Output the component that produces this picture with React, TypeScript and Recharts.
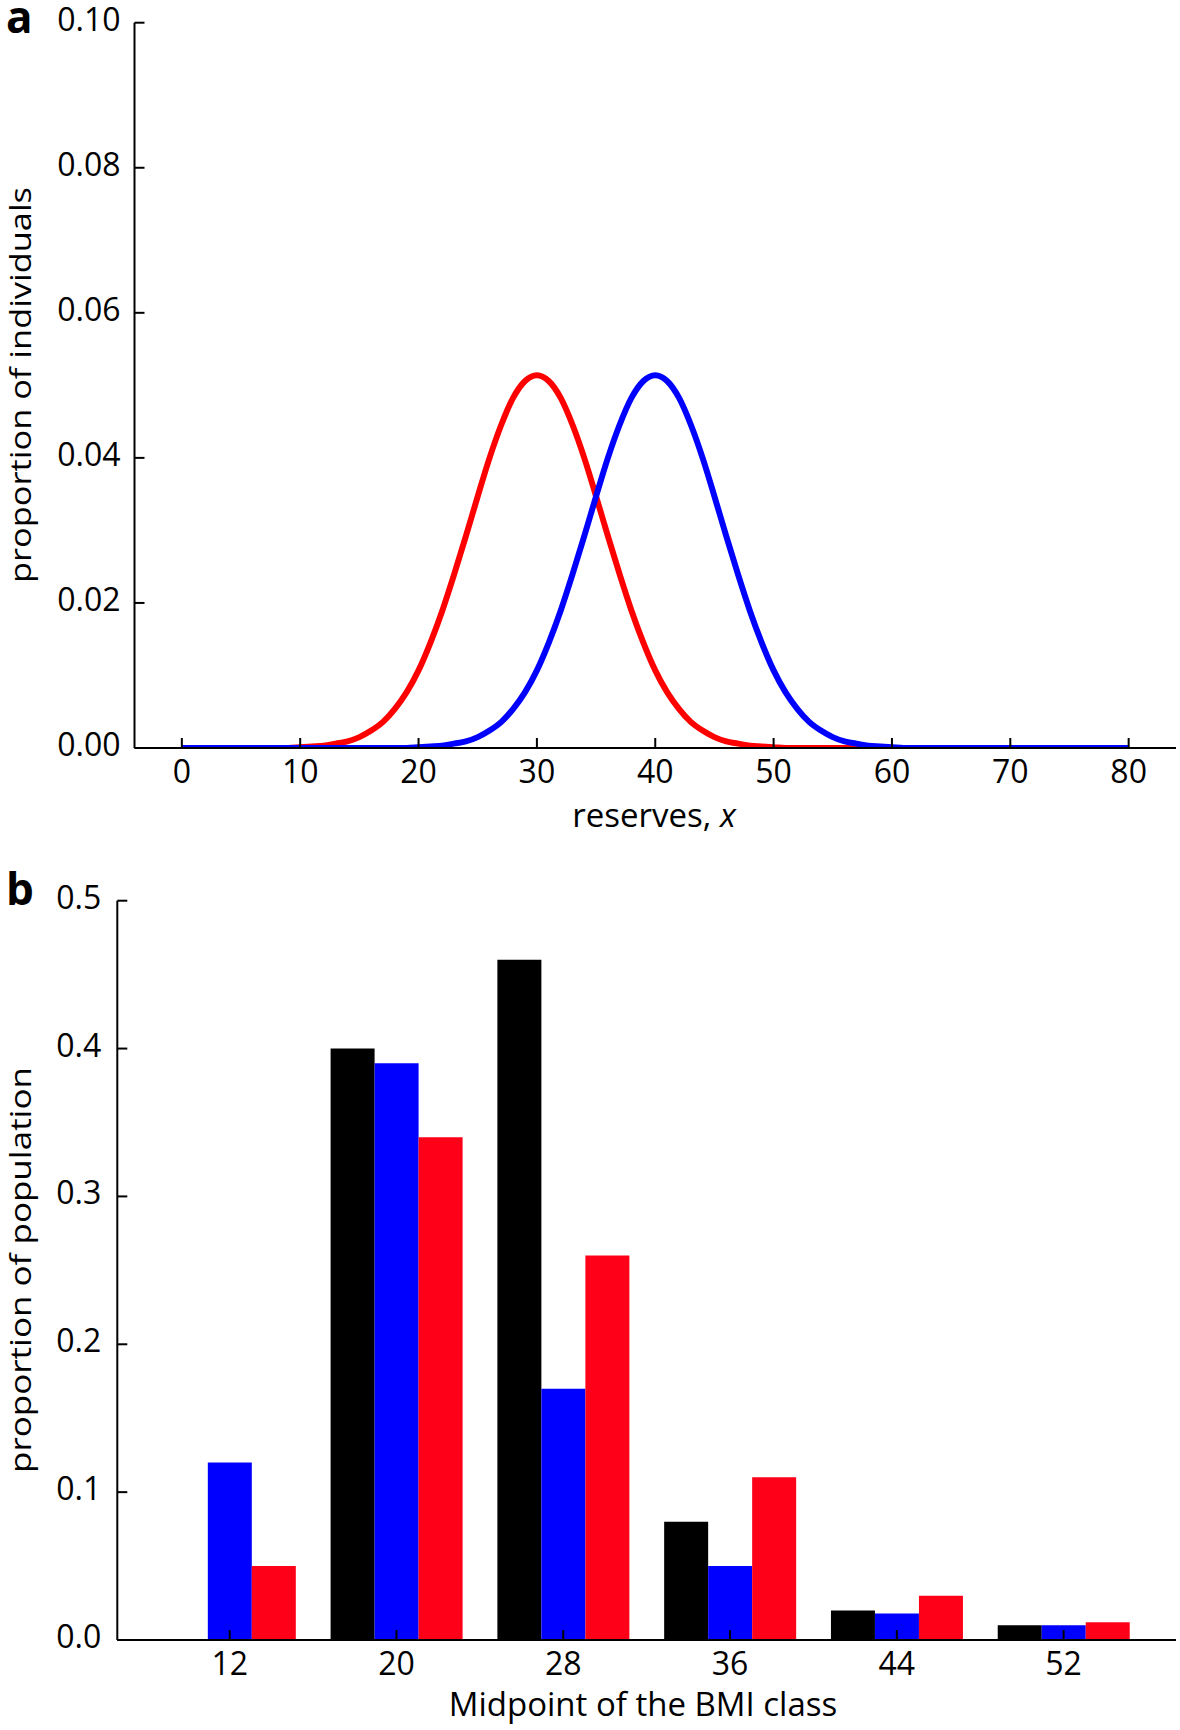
import React from 'react';
import { LineChart, Line, XAxis, YAxis, BarChart, Bar } from 'recharts';

// ---------- Panel a: distribution of reserves ----------
const reserveX = [
  0, 4, 8, 9, 10, 11, 12, 13, 14, 15, 16, 17, 18, 19, 20, 21, 22, 23, 24, 25,
  26, 27, 28, 29, 30, 31, 32, 33, 34, 35, 36, 37, 38, 39, 40, 41, 42, 43, 44, 45,
  46, 47, 48, 49, 50, 51, 52, 53, 54, 55, 56, 57, 58, 59, 60, 61, 62, 66, 70, 75, 80,
];
const redProportion = [
  0, 0, 0, 0, 0.0001, 0.0002, 0.0003, 0.0006, 0.0009, 0.0015, 0.0024, 0.0036, 0.0054, 0.0077, 0.0107, 0.0145, 0.0189, 0.0239, 0.0292, 0.0347,
  0.04, 0.0446, 0.0483, 0.0506, 0.0514, 0.0506, 0.0483, 0.0446, 0.04, 0.0347, 0.0292, 0.0239, 0.0189, 0.0145, 0.0107, 0.0077, 0.0054, 0.0036, 0.0024, 0.0015,
  0.0009, 0.0006, 0.0003, 0.0002, 0.0001, 0, 0, 0, 0, 0, 0, 0, 0, 0, 0, 0, 0, 0, 0, 0, 0,
];
const blueProportion = [
  0, 0, 0, 0, 0, 0, 0, 0, 0, 0, 0, 0, 0, 0, 0.0001, 0.0002, 0.0003, 0.0006, 0.0009, 0.0015,
  0.0024, 0.0036, 0.0054, 0.0077, 0.0107, 0.0145, 0.0189, 0.0239, 0.0292, 0.0347, 0.04, 0.0446, 0.0483, 0.0506, 0.0514, 0.0506, 0.0483, 0.0446, 0.04, 0.0347,
  0.0292, 0.0239, 0.0189, 0.0145, 0.0107, 0.0077, 0.0054, 0.0036, 0.0024, 0.0015, 0.0009, 0.0006, 0.0003, 0.0002, 0.0001, 0, 0, 0, 0, 0, 0,
];
const reserveTicks = [0, 10, 20, 30, 40, 50, 60, 70, 80];
const individualTicks = [0, 0.02, 0.04, 0.06, 0.08, 0.1];

// ---------- Panel b: BMI classes ----------
const bmiClasses = ['12', '20', '28', '36', '44', '52'];
const blackShare = [0, 0.4, 0.46, 0.08, 0.02, 0.01];
const blueShare = [0.12, 0.39, 0.17, 0.05, 0.018, 0.01];
const redShare = [0.05, 0.34, 0.26, 0.11, 0.03, 0.012];
const populationTicks = [0, 0.1, 0.2, 0.3, 0.4, 0.5];

const reserveData = reserveX.map((x, i) => ({ x, red: redProportion[i], blue: blueProportion[i] }));
const bmiData = bmiClasses.map((c, i) => ({ cls: c, black: blackShare[i], blue: blueShare[i], red: redShare[i] }));

const FONT = "'Open Sans', 'DejaVu Sans', sans-serif";
const TICK_FS = 32;
const AXIS_W = 90;
const AXIS_H = 60;

const XTick = (props: any) => {
  const { x, y, payload } = props;
  return (
    <g>
      <line x1={x} y1={y} x2={x} y2={y - 10} stroke="#000" strokeWidth={2} />
      <text x={x} y={y + 35} textAnchor="middle" fontFamily={FONT} fontSize={TICK_FS} fill="#000">
        {payload.value}
      </text>
    </g>
  );
};

const makeYTick = (digits: number, gap: number) => (props: any) => {
  const { x, y, payload } = props;
  return (
    <g>
      <line x1={x} y1={y} x2={x + 10} y2={y} stroke="#000" strokeWidth={2} />
      <text x={x - gap} y={y + 8} textAnchor="end" fontFamily={FONT} fontSize={TICK_FS} fill="#000">
        {Number(payload.value).toFixed(digits)}
      </text>
    </g>
  );
};

const YTickA = makeYTick(2, 14);
const YTickB = makeYTick(1, 16);

export default function App() {
  return (
    <div style={{ position: 'absolute', left: 0, top: 0, width: 1180, height: 1730, background: '#fff' }}>
      <div style={{ position: 'absolute', left: 0, top: 0 }}>
        <LineChart
          width={1180}
          height={850}
          data={reserveData}
          margin={{ top: 22.7, right: 4, left: 134.5 - AXIS_W, bottom: 102 - AXIS_H }}
        >
          <Line
            type="monotone"
            dataKey="red"
            stroke="#ff0000"
            strokeWidth={6}
            dot={false}
            activeDot={false}
            isAnimationActive={false}
          />
          <Line
            type="monotone"
            dataKey="blue"
            stroke="#0000ff"
            strokeWidth={6}
            dot={false}
            activeDot={false}
            isAnimationActive={false}
          />
          <XAxis
            type="number"
            dataKey="x"
            domain={[-4, 84]}
            ticks={reserveTicks}
            height={AXIS_H}
            tickSize={0}
            tickMargin={0}
            tick={XTick}
            axisLine={{ stroke: '#000', strokeWidth: 2 }}
            tickLine={false}
            allowDataOverflow
          />
          <YAxis
            type="number"
            domain={[0, 0.1]}
            ticks={individualTicks}
            width={AXIS_W}
            tickSize={0}
            tickMargin={0}
            tick={YTickA}
            axisLine={{ stroke: '#000', strokeWidth: 2 }}
            tickLine={false}
            allowDataOverflow
          />
        </LineChart>
      </div>

      <div style={{ position: 'absolute', left: 0, top: 850 }}>
        <BarChart
          width={1180}
          height={880}
          data={bmiData}
          margin={{ top: 50.7, right: 4, left: 117.3 - AXIS_W, bottom: 90 - AXIS_H }}
          barCategoryGap="10.5%"
          barGap={0}
        >
          <Bar dataKey="black" fill="#000000" isAnimationActive={false} />
          <Bar dataKey="blue" fill="#0000ff" isAnimationActive={false} />
          <Bar dataKey="red" fill="#ff0019" isAnimationActive={false} />
          <XAxis
            dataKey="cls"
            height={AXIS_H}
            tickSize={0}
            tickMargin={0}
            padding={{ left: 29, right: 29 }}
            tick={XTick}
            axisLine={{ stroke: '#000', strokeWidth: 2 }}
            tickLine={false}
            interval={0}
          />
          <YAxis
            type="number"
            domain={[0, 0.5]}
            ticks={populationTicks}
            width={AXIS_W}
            tickSize={0}
            tickMargin={0}
            tick={YTickB}
            axisLine={{ stroke: '#000', strokeWidth: 2 }}
            tickLine={false}
          />
        </BarChart>
      </div>

      <svg
        width={1180}
        height={1730}
        style={{ position: 'absolute', left: 0, top: 0, pointerEvents: 'none' }}
      >
        <text x={6} y={33} fontFamily={FONT} fontWeight="bold" fontSize={44} fill="#000">a</text>
        <text x={6} y={905} fontFamily={FONT} fontWeight="bold" fontSize={44} fill="#000">b</text>

        <text
          x={31}
          y={385}
          transform="rotate(-90, 31, 385)"
          textAnchor="middle"
          fontFamily={FONT}
          fontSize={29}
          textLength={396}
          lengthAdjust="spacingAndGlyphs"
          fill="#000"
        >
          proportion of individuals
        </text>
        <text x={654} y={827} textAnchor="middle" fontFamily={FONT} fontSize={33} fill="#000">
          reserves, <tspan fontStyle="italic">x</tspan>
        </text>

        <text
          x={31}
          y={1270}
          transform="rotate(-90, 31, 1270)"
          textAnchor="middle"
          fontFamily={FONT}
          fontSize={29}
          textLength={406}
          lengthAdjust="spacingAndGlyphs"
          fill="#000"
        >
          proportion of population
        </text>
        <text x={643} y={1716} textAnchor="middle" fontFamily={FONT} fontSize={33} fill="#000">
          Midpoint of the BMI class
        </text>
      </svg>
    </div>
  );
}
